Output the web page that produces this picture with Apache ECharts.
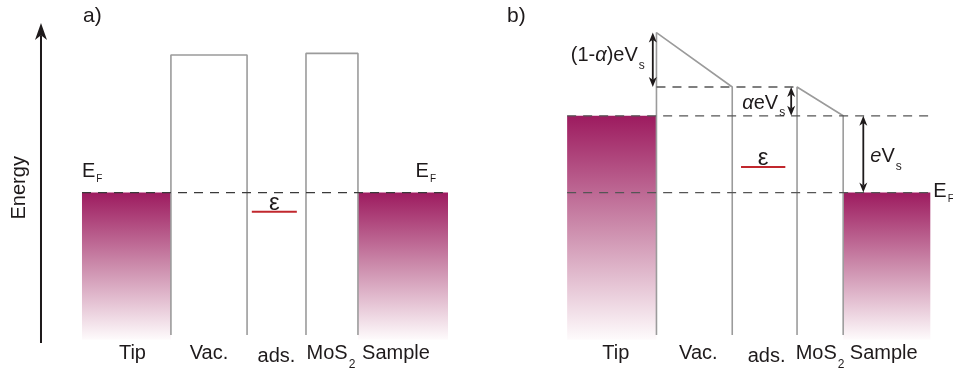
<!DOCTYPE html>
<html>
<head>
<meta charset="utf-8">
<script src="https://cdn.jsdelivr.net/npm/echarts@6/dist/echarts.min.js"></script>
<style>
  html, body { margin: 0; padding: 0; background: #ffffff; }
  #chart { width: 953px; height: 376px; }
</style>
</head>
<body>
<div id="chart"></div>
<script>
// Regions of the tunnel junction, left to right
const regionNames = ['Tip', 'Vac.', 'ads.', 'MoS{sub2|2}', 'Sample'];

// Region boundaries (arbitrary length units): tip | vacuum | adsorbate | MoS2 | sample
const wallsA = [0, 2.43, 4.51, 6.12, 7.54, 10];
const wallsB = [0, 2.44, 4.51, 6.28, 7.54, 9.92];

// Energy levels (arbitrary energy units), 0 = lower end of the energy axis
const bandBottom = 0.1;
const wallBottom = 0.25;

// a) no bias: common Fermi level
const fermiA = 4.7;
const vacTopA = 9.0;
const mosTopA = 9.05;
const epsA = 4.1;
const epsSpanA = [4.64, 5.87];

// b) sample bias Vs applied
const fermiTipB = 7.1;
const fermiSampleB = 4.7;
const vacTopTipB = 9.7;    // barrier top at the tip side
const adsLevelB = 8.0;     // potential at the adsorbate layer
const mosTopSampleB = 7.1; // barrier top at the sample side
const epsB = 5.5;
const epsSpanB = [4.75, 5.96];

// Energy axis extent
const energyAxis = [0, 10];

const FONT = '"Liberation Sans", Arial, Helvetica, sans-serif';
const INK = '#1e1a1b';
const WALL = '#9b9b9b';
const RED = '#c1272d';

const chart = echarts.init(document.getElementById('chart'), null, { renderer: 'canvas' });

const rich = {
  t:   { fontFamily: FONT, fontSize: 20, lineHeight: 20, color: INK, verticalAlign: 'top' },
  eps: { fontFamily: FONT, fontSize: 24, lineHeight: 24, color: INK, verticalAlign: 'top' },
  it:  { fontFamily: FONT, fontSize: 20, lineHeight: 20, color: INK, fontStyle: 'italic', verticalAlign: 'top' },
  sub2:{ fontFamily: FONT, fontSize: 12, lineHeight: 12, color: INK, verticalAlign: 'top', padding: [15, 0, 0, 1] },
  subF:{ fontFamily: FONT, fontSize: 10, lineHeight: 10, color: INK, verticalAlign: 'top', padding: [13, 0, 0, 1] },
  subS:{ fontFamily: FONT, fontSize: 12, lineHeight: 12, color: INK, verticalAlign: 'top', padding: [14, 0, 0, 1] }
};

// Wrap plain text runs in the base style so every run is top-aligned
function rt(s) {
  return s.replace(/(^|\})([^{}]+)(?=\{|$)/g, (m, pre, txt) => pre + '{t|' + txt + '}');
}

function textItem(x, y, text, opts) {
  return {
    value: [x, y],
    label: Object.assign({
      show: true,
      position: 'inside',
      formatter: text,
      align: 'center',
      verticalAlign: 'top',
      color: INK,
      textBorderWidth: 0,
      rich: rich
    }, opts || {})
  };
}

function textSeries(gridIndex, items) {
  return {
    type: 'scatter',
    xAxisIndex: gridIndex,
    yAxisIndex: gridIndex,
    symbolSize: 0,
    silent: true,
    z: 10,
    itemStyle: { opacity: 1 },
    data: items
  };
}

function pathSeries(gridIndex, points, style, z) {
  return {
    type: 'line',
    xAxisIndex: gridIndex,
    yAxisIndex: gridIndex,
    data: points,
    showSymbol: false,
    symbol: 'none',
    silent: true,
    z: z || 3,
    lineStyle: style
  };
}

function bandSeries(gridIndex, blocks) {
  return {
    type: 'custom',
    xAxisIndex: gridIndex,
    yAxisIndex: gridIndex,
    silent: true,
    z: 1,
    encode: { x: [0, 1], y: [2, 3] },
    data: blocks,
    renderItem: function (params, api) {
      const p0 = api.coord([api.value(0), api.value(2)]);
      const p1 = api.coord([api.value(1), api.value(3)]);
      return {
        type: 'rect',
        shape: { x: p0[0], y: p0[1], width: p1[0] - p0[0], height: p1[1] - p0[1] },
        style: {
          fill: new echarts.graphic.LinearGradient(0, 0, 0, 1, [
            { offset: 0, color: '#9d1b5f' },
            { offset: 0.5, color: '#cc8cac' },
            { offset: 1, color: '#fefbfc' }
          ])
        }
      };
    }
  };
}

// Vertical arrows: [x, yFrom, yTo, headAtStart(1/0)]; head always drawn at yTo
function arrowSeries(gridIndex, arrows, lineWidth, headLen, headHalf) {
  function head(tip, d) {
    const bx = tip[0] - d[0] * headLen, by = tip[1] - d[1] * headLen;
    const nx = -d[1], ny = d[0];
    const notch = [tip[0] - d[0] * headLen * 0.72, tip[1] - d[1] * headLen * 0.72];
    return {
      shape: [tip, [bx + nx * headHalf, by + ny * headHalf], notch, [bx - nx * headHalf, by - ny * headHalf]],
      notch: notch
    };
  }
  return {
    type: 'custom',
    xAxisIndex: gridIndex,
    yAxisIndex: gridIndex,
    silent: true,
    z: 6,
    encode: { x: 0, y: [1, 2] },
    data: arrows,
    renderItem: function (params, api) {
      const a = api.coord([api.value(0), api.value(1)]);
      const b = api.coord([api.value(0), api.value(2)]);
      const len = Math.hypot(b[0] - a[0], b[1] - a[1]);
      const d = [(b[0] - a[0]) / len, (b[1] - a[1]) / len];
      const children = [];
      const hb = head(b, d);
      let start = a;
      children.push({ type: 'polygon', shape: { points: hb.shape }, style: { fill: INK } });
      if (api.value(3) === 1) {
        const ha = head(a, [-d[0], -d[1]]);
        children.push({ type: 'polygon', shape: { points: ha.shape }, style: { fill: INK } });
        start = ha.notch;
      }
      children.push({
        type: 'line',
        shape: { x1: start[0], y1: start[1], x2: hb.notch[0], y2: hb.notch[1] },
        style: { stroke: INK, lineWidth: lineWidth }
      });
      return { type: 'group', children: children };
    }
  };
}

const dashA = { color: '#3a3a3a', width: 1.3, type: [9, 7] };
const dashB = { color: '#555555', width: 1.3, type: [9, 7] };
const wallStyle = { color: WALL, width: 1.6 };
const epsStyle = { color: RED, width: 2 };

// Region label placement tweaks (px), per panel
const nudgeA = [6, 0, 0, -1, -7];
const nudgeB = [4, 4, 2, 0, -3];
const labelRow = 0.1;

function regionLabels(walls, nudge) {
  return regionNames.map((name, i) => textItem(
    (walls[i] + walls[i + 1]) / 2, labelRow, rt(name),
    { offset: [nudge[i], name === 'ads.' ? 7 : 4] }
  ));
}

// Arrow positions in panel b
const arrowXOneMinusAlpha = wallsB[1] - 0.1;
const arrowXAlpha = wallsB[3] - 0.16;
const arrowXBias = wallsB[4] + 0.55;

const titleStyle = { fontFamily: FONT, fontSize: 21, fontWeight: 'normal', color: INK };

const option = {
  animation: false,
  backgroundColor: '#ffffff',
  textStyle: { fontFamily: FONT },
  title: [
    { text: 'a)', left: 78, top: 1, textStyle: titleStyle },
    { text: 'b)', left: 502, top: 1, textStyle: titleStyle }
  ],
  grid: [
    { left: 0, width: 448, top: 7, height: 368 },
    { left: 480, width: 473, top: 7, height: 368 }
  ],
  xAxis: [
    { gridIndex: 0, type: 'value', min: -2.24, max: 10, show: false },
    { gridIndex: 1, type: 'value', min: -2.38, max: 10.54, show: false }
  ],
  yAxis: [
    { gridIndex: 0, type: 'value', min: -1, max: 10.5, show: false },
    { gridIndex: 1, type: 'value', min: -1, max: 10.5, show: false }
  ],
  series: [
    // ---------- a) no bias ----------
    bandSeries(0, [
      [wallsA[0], wallsA[1], fermiA, bandBottom],
      [wallsA[4], wallsA[5], fermiA, bandBottom]
    ]),
    pathSeries(0, [[wallsA[1], wallBottom], [wallsA[1], vacTopA], [wallsA[2], vacTopA], [wallsA[2], wallBottom]], wallStyle),
    pathSeries(0, [[wallsA[3], wallBottom], [wallsA[3], mosTopA], [wallsA[4], mosTopA], [wallsA[4], wallBottom]], wallStyle),
    pathSeries(0, [[wallsA[0], fermiA], [wallsA[5] - 0.14, fermiA]], dashA, 4),
    pathSeries(0, [[epsSpanA[0], epsA], [epsSpanA[1], epsA]], epsStyle, 5),
    arrowSeries(0, [[-1.12, energyAxis[0], energyAxis[1], 0]], 2, 17, 6),
    textSeries(0, regionLabels(wallsA, nudgeA).concat([
      textItem(-1.72, 4.85, 'Energy', { rotate: 90, verticalAlign: 'middle', fontSize: 20, fontFamily: FONT, rich: {} }),
      textItem(wallsA[0], fermiA, rt('E{subF|F}'), { align: 'left', offset: [0, -31] }),
      textItem(wallsA[5], fermiA, rt('E{subF|F}'), { align: 'right', offset: [-12, -31] }),
      textItem((epsSpanA[0] + epsSpanA[1]) / 2, epsA, '{eps|ε}', { offset: [0, -20] })
    ])),

    // ---------- b) with bias ----------
    bandSeries(1, [
      [wallsB[0], wallsB[1], fermiTipB, bandBottom],
      [wallsB[4], wallsB[5], fermiSampleB, bandBottom]
    ]),
    pathSeries(1, [[wallsB[0], fermiTipB], [wallsB[5] - 0.06, fermiTipB]], dashB, 4),
    pathSeries(1, [[wallsB[0], fermiSampleB], [wallsB[5] - 0.06, fermiSampleB]], dashB, 4),
    pathSeries(1, [[wallsB[1], adsLevelB], [wallsB[3], adsLevelB]], dashB, 4),
    pathSeries(1, [[wallsB[1], wallBottom], [wallsB[1], vacTopTipB], [wallsB[2], adsLevelB], [wallsB[2], wallBottom]], wallStyle),
    pathSeries(1, [[wallsB[3], wallBottom], [wallsB[3], adsLevelB], [wallsB[4], mosTopSampleB], [wallsB[4], wallBottom]], wallStyle),
    pathSeries(1, [[epsSpanB[0], epsB], [epsSpanB[1], epsB]], epsStyle, 5),
    arrowSeries(1, [
      [arrowXOneMinusAlpha, vacTopTipB, adsLevelB, 1],
      [arrowXAlpha, adsLevelB, fermiTipB, 1],
      [arrowXBias, fermiTipB, fermiSampleB, 1]
    ], 1.8, 10, 4),
    textSeries(1, regionLabels(wallsB, nudgeB).concat([
      textItem(wallsB[5], fermiSampleB, rt('E{subF|F}'), { align: 'left', offset: [3, -11] }),
      textItem((epsSpanB[0] + epsSpanB[1]) / 2, epsB, '{eps|ε}', { offset: [0, -21] }),
      textItem(arrowXOneMinusAlpha, vacTopTipB, '{t|(1-}{it|α}{t|)eV}{subS|s}', { align: 'right', offset: [-8, 13] }),
      textItem(arrowXAlpha, adsLevelB, '{it|α}{t|eV}{subS|s}', { align: 'right', offset: [-6, 6] }),
      textItem(arrowXBias, fermiTipB, '{it|e}{t|V}{subS|s}', { align: 'left', offset: [7, 31] })
    ]))
  ]
};

chart.setOption(option);
</script>
</body>
</html>
